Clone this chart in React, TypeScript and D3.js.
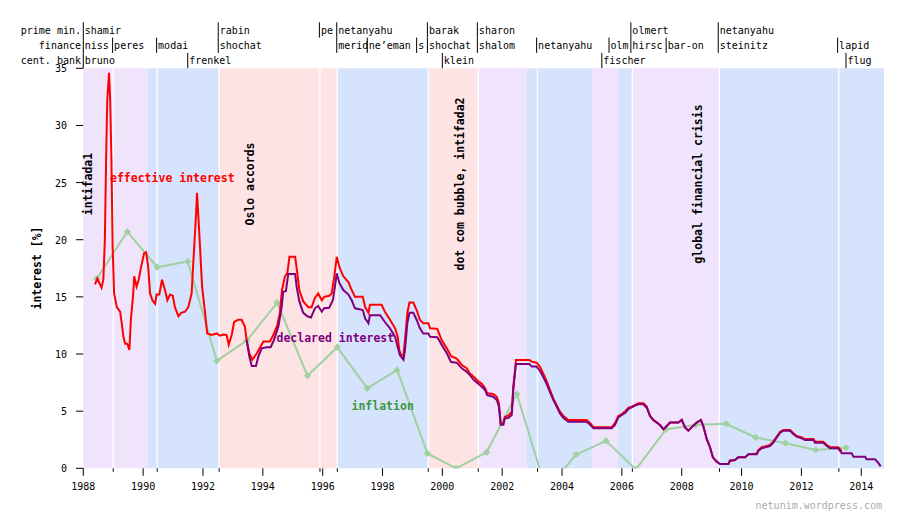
import React from 'react';
import * as d3 from 'd3';

const W = 902;
const H = 529;

// effective interest [year, %]
const effectiveInterest: [number, number][] = [
  [1988.39,16.1],[1988.47,16.6],[1988.61,15.8],[1988.67,16.5],[1988.72,20.0],[1988.76,26.7],[1988.80,32.2],[1988.86,34.6],[1988.90,32.1],[1988.94,27.0],[1988.98,19.4],
  [1989.03,15.3],[1989.12,14.1],[1989.23,13.7],[1989.30,12.4],[1989.34,11.5],[1989.40,10.9],[1989.47,10.9],[1989.54,10.35],[1989.59,13.0],[1989.67,15.3],[1989.70,16.8],[1989.78,15.9],[1989.85,16.5],[1989.93,17.6],
  [1990.03,18.8],[1990.10,18.9],[1990.17,17.6],[1990.23,15.3],[1990.31,14.7],[1990.40,14.4],[1990.45,15.2],[1990.54,15.2],[1990.63,16.5],[1990.73,15.6],[1990.81,14.7],[1990.90,15.2],[1990.99,15.1],
  [1991.06,14.1],[1991.18,13.3],[1991.27,13.6],[1991.40,13.7],[1991.51,14.1],[1991.62,15.3],[1991.70,19.1],[1991.77,22.3],[1991.80,24.1],[1991.84,22.3],[1991.90,19.4],[1991.97,15.9],
  [1992.07,13.6],[1992.14,11.8],[1992.29,11.66],[1992.46,11.8],[1992.57,11.6],[1992.68,11.7],[1992.79,11.66],[1992.86,10.8],[1992.96,11.66],
  [1993.04,12.8],[1993.18,13.0],[1993.29,13.0],[1993.40,12.4],[1993.46,11.2],[1993.55,10.06],[1993.65,9.5],[1993.80,10.06],[1993.91,10.6],
  [1994.02,11.1],[1994.24,11.1],[1994.35,11.66],[1994.48,12.5],[1994.57,13.6],[1994.64,15.6],[1994.74,16.8],[1994.82,17.1],[1994.89,18.5],
  [1995.08,18.5],[1995.15,17.1],[1995.22,15.6],[1995.35,14.6],[1995.52,14.1],[1995.63,14.1],[1995.74,14.9],[1995.85,15.3],[1995.97,14.7],
  [1996.05,15.0],[1996.22,15.1],[1996.30,15.3],[1996.39,16.8],[1996.47,18.5],[1996.56,17.6],[1996.69,16.8],[1996.86,16.3],[1996.97,15.6],
  [1997.08,15.0],[1997.34,15.0],[1997.42,14.1],[1997.53,13.6],[1997.58,14.3],[1997.97,14.3],
  [1998.08,13.7],[1998.25,13.0],[1998.42,12.25],[1998.51,11.5],[1998.56,10.35],[1998.62,9.9],[1998.70,9.9],[1998.75,11.2],[1998.83,13.6],[1998.90,14.5],
  [1999.03,14.5],[1999.14,13.85],[1999.25,13.0],[1999.36,12.7],[1999.53,12.7],[1999.59,12.25],[1999.83,12.2],[1999.98,11.2],
  [2000.15,10.5],[2000.29,9.8],[2000.48,9.6],[2000.65,9.04],[2000.81,8.75],[2000.92,8.3],
  [2001.06,8.0],[2001.20,7.6],[2001.32,7.4],[2001.43,7.0],[2001.50,6.56],[2001.70,6.5],[2001.82,6.26],[2001.89,5.7],[2001.95,3.94],
  [2002.04,3.94],[2002.09,4.5],[2002.20,4.6],[2002.32,4.95],[2002.37,7.14],[2002.43,8.6],[2002.46,9.47],[2002.91,9.47],[2002.99,9.33],
  [2003.15,9.24],[2003.26,8.9],[2003.37,8.3],[2003.49,7.6],[2003.60,6.85],[2003.71,6.1],[2003.82,5.54],[2003.93,4.95],
  [2004.04,4.6],[2004.21,4.23],[2004.82,4.23],[2004.94,3.94],[2005.05,3.6],[2005.66,3.6],[2005.77,3.94],[2005.88,4.58],
  [2006.00,4.75],[2006.11,5.0],[2006.22,5.3],[2006.33,5.4],[2006.44,5.54],[2006.55,5.69],[2006.72,5.69],[2006.83,5.4],[2006.94,4.58],
  [2007.05,4.23],[2007.17,4.0],[2007.28,3.76],[2007.39,3.41],[2007.50,3.7],[2007.61,4.0],[2007.89,4.0],
  [2008.00,4.23],[2008.11,3.58],[2008.22,3.29],[2008.33,3.58],[2008.50,4.0],[2008.64,4.23],[2008.72,3.7],[2008.84,2.53],[2008.95,1.8],
  [2009.04,0.96],[2009.17,0.58],[2009.28,0.38],[2009.56,0.38],[2009.61,0.67],[2009.78,0.73],[2009.89,0.96],
  [2010.12,0.96],[2010.23,1.22],[2010.51,1.3],[2010.56,1.6],[2010.67,1.84],[2010.95,2.04],
  [2011.06,2.33],[2011.17,2.76],[2011.29,3.2],[2011.40,3.35],[2011.62,3.35],[2011.73,3.06],[2011.84,2.83],
  [2012.01,2.71],[2012.12,2.56],[2012.40,2.56],[2012.46,2.33],[2012.73,2.33],[2012.85,2.04],[2012.96,1.84],
  [2013.23,1.84],[2013.35,1.5],
];

// declared interest [year, %]
const declaredInterest: [number, number][] = [
  [1993.46,11.2],[1993.55,9.77],[1993.63,8.95],[1993.77,8.95],[1993.85,9.77],[1993.96,10.5],
  [1994.13,10.6],[1994.26,10.6],[1994.37,11.2],[1994.52,12.4],[1994.63,14.1],[1994.68,15.45],[1994.77,15.5],[1994.85,17.0],
  [1995.08,17.0],[1995.13,15.9],[1995.22,14.6],[1995.35,13.6],[1995.49,13.3],[1995.61,13.2],[1995.74,14.0],[1995.85,14.2],[1995.97,13.7],
  [1996.05,14.0],[1996.22,14.05],[1996.34,14.7],[1996.41,15.9],[1996.47,17.06],[1996.56,16.2],[1996.69,15.6],[1996.86,15.2],[1996.97,14.7],
  [1997.08,14.0],[1997.34,13.85],[1997.42,13.1],[1997.53,12.7],[1997.58,13.4],[1997.92,13.4],
  [1998.08,12.8],[1998.25,12.25],[1998.42,11.5],[1998.51,10.6],[1998.58,9.9],[1998.70,9.5],[1998.75,10.35],[1998.83,12.7],[1998.90,13.6],
  [1999.03,13.6],[1999.14,13.0],[1999.25,12.25],[1999.36,11.8],[1999.53,11.8],[1999.59,11.5],[1999.83,11.46],[1999.98,10.8],
  [2000.15,10.06],[2000.29,9.3],[2000.48,9.24],[2000.65,8.75],[2000.81,8.45],[2000.92,8.16],
  [2001.06,7.7],[2001.20,7.4],[2001.32,7.14],[2001.43,6.85],[2001.50,6.4],[2001.70,6.26],[2001.82,5.98],[2001.89,5.4],[2001.95,3.8],
  [2002.04,3.8],[2002.09,4.37],[2002.20,4.4],[2002.32,4.66],[2002.37,6.85],[2002.43,8.45],[2002.46,9.12],[2002.91,9.12],[2002.99,8.9],
  [2003.15,8.9],[2003.26,8.54],[2003.37,8.0],[2003.49,7.35],[2003.60,6.65],[2003.71,5.98],[2003.82,5.4],[2003.93,4.8],
  [2004.04,4.43],[2004.21,4.08],[2004.82,4.08],[2004.94,3.8],[2005.05,3.5],[2005.66,3.5],[2005.77,3.8],[2005.88,4.46],
  [2006.00,4.66],[2006.11,4.87],[2006.22,5.19],[2006.33,5.34],[2006.44,5.48],[2006.55,5.6],[2006.72,5.6],[2006.83,5.3],[2006.94,4.58],
  [2007.05,4.23],[2007.17,4.0],[2007.28,3.76],[2007.39,3.41],[2007.50,3.7],[2007.61,4.0],[2007.89,4.0],
  [2008.00,4.23],[2008.11,3.58],[2008.22,3.29],[2008.33,3.58],[2008.50,4.0],[2008.64,4.23],[2008.72,3.7],[2008.84,2.53],[2008.95,1.8],
  [2009.04,0.96],[2009.17,0.58],[2009.28,0.38],[2009.56,0.38],[2009.61,0.67],[2009.78,0.73],[2009.89,0.96],
  [2010.12,0.96],[2010.23,1.22],[2010.51,1.22],[2010.56,1.51],[2010.67,1.75],[2010.95,1.95],
  [2011.06,2.24],[2011.17,2.68],[2011.29,3.12],[2011.40,3.29],[2011.62,3.29],[2011.73,3.0],[2011.84,2.77],
  [2012.01,2.62],[2012.12,2.48],[2012.40,2.48],[2012.46,2.24],[2012.73,2.24],[2012.85,1.95],[2012.96,1.75],
  [2013.23,1.75],[2013.35,1.31],[2013.68,1.31],[2013.74,1.0],[2014.13,1.0],[2014.18,0.79],[2014.46,0.79],[2014.57,0.47],[2014.65,0.17],
];

// yearly inflation [year, %]
const inflation: [number, number][] = [
  [1988.45,16.6],[1989.47,20.7],[1990.47,17.6],[1991.49,18.1],[1992.46,9.4],[1993.47,11.2],[1994.48,14.5],[1995.49,8.1],
  [1996.49,10.6],[1997.49,7.0],[1998.49,8.6],[1999.50,1.3],[2000.46,0.0],[2001.48,1.4],[2002.49,6.5],[2003.47,-1.9],
  [2004.47,1.2],[2005.47,2.4],[2006.47,-0.1],[2007.47,3.4],[2008.47,3.8],[2009.48,3.9],[2010.47,2.7],[2011.47,2.2],
  [2012.48,1.6],[2013.49,1.8],
];

const xTicks = [1988, 1990, 1992, 1994, 1996, 1998, 2000, 2002, 2004, 2006, 2008, 2010, 2012, 2014];
const yTicks = [0, 5, 10, 15, 20, 25, 30, 35];

// government periods: [start, end, kind]
const periods: [number, number, string][] = [
  [1988.0, 1990.15, 'unity'],
  [1990.15, 1992.54, 'right'],
  [1992.54, 1996.49, 'left'],
  [1996.49, 1999.53, 'right'],
  [1999.53, 2001.2, 'left'],
  [2001.2, 2002.82, 'unity'],
  [2002.82, 2005.0, 'right'],
  [2005.0, 2005.87, 'unity'],
  [2005.87, 2006.35, 'right'],
  [2006.35, 2009.26, 'unity'],
  [2009.26, 2014.76, 'right'],
];
const boundaryYears = [1989.0, 1990.47, 1992.54, 1995.91, 1996.49, 1999.53, 2001.2, 2003.18, 2006.35, 2009.26, 2013.25];

const primeMinisters: [number, string][] = [
  [1988.0, 'shamir'], [1992.51, 'rabin'], [1995.89, 'pe'], [1996.47, 'netanyahu'], [1999.5, 'barak'],
  [2001.17, 'sharon'], [2006.3, 'olmert'], [2009.22, 'netanyahu'],
];
const financeMinisters: [number, string][] = [
  [1988.0, 'niss'], [1988.98, 'peres'], [1990.45, 'modai'], [1992.51, 'shochat'], [1996.47, 'merid'],
  [1997.49, 'ne\u2019eman'], [1999.14, 's'], [1999.5, 'shochat'], [2001.17, 'shalom'], [2003.15, 'netanyahu'],
  [2005.57, 'olm'], [2006.3, 'hirsc'], [2007.48, 'bar-on'], [2009.22, 'steinitz'], [2013.21, 'lapid'],
];
const centralBank: [number, string][] = [
  [1988.0, 'bruno'], [1991.49, 'frenkel'], [2000.0, 'klein'], [2005.33, 'fischer'], [2013.49, 'flug'],
];
const rowTitles = ['prime min.', 'finance', 'cent. bank'];

const events: [number, string][] = [
  [1988.15, 'intifada1'],
  [1993.58, 'Oslo accords'],
  [2000.6, 'dot com bubble, intifada2'],
  [2008.55, 'global financial crisis'],
];

const FONT = '"DejaVu Sans Mono", monospace';
const fills: Record<string, string> = { unity: '#f0e4fc', right: '#d6e3fc', left: '#fde3e3' };
const GREEN = '#9fd09f';

export default function App() {
  const x = d3.scaleLinear().domain([1988, 2014.76]).range([83.3, 884]);
  const y = d3.scaleLinear().domain([0, 35]).range([468.3, 68.3]);
  const line = d3.line<[number, number]>().x(d => x(d[0])).y(d => y(d[1]));
  const diamond = 'M0,-3.6L3.6,0L0,3.6L-3.6,0Z';
  const rows = [primeMinisters, financeMinisters, centralBank];
  const rowTop = [22.3, 37.6, 52.9];
  const rowH = 15.3;

  return (
    <svg width={W} height={H} style={{ position: 'absolute', left: 0, top: 0, background: '#fff' }}
      fontFamily={FONT}>
      <defs>
        <clipPath id="plot">
          <rect x={x(1988)} y={y(35)} width={x(2014.76) - x(1988)} height={y(0) - y(35)} />
        </clipPath>
      </defs>
      {periods.map(([s, e, k], i) => (
        <rect key={'p' + i} x={x(s)} y={y(35)} width={x(e) - x(s)} height={y(0) - y(35)} fill={fills[k]} />
      ))}
      {boundaryYears.map((b, i) => (
        <line key={'b' + i} x1={x(b)} x2={x(b)} y1={y(35)} y2={y(0)} stroke="#fff" strokeWidth={1.3} />
      ))}
      {boundaryYears.map((b, i) => (
        <line key={'bt' + i} x1={x(b)} x2={x(b)} y1={y(0)} y2={y(0) + 3.5} stroke="#000" strokeWidth={1} />
      ))}
      {/* y axis */}
      {yTicks.map(t => (
        <g key={'y' + t}>
          <line x1={76} x2={x(1988)} y1={y(t)} y2={y(t)} stroke="#000" strokeWidth={1} />
          <text x={67} y={y(t) + 4} textAnchor="end" fontSize={10}>{t}</text>
        </g>
      ))}
      {xTicks.map(t => (
        <g key={'x' + t}>
          <line x1={x(t)} x2={x(t)} y1={y(0)} y2={y(0) + 7.5} stroke="#000" strokeWidth={1} />
          <text x={x(t)} y={490} textAnchor="middle" fontSize={10}>{t}</text>
        </g>
      ))}
      <text transform="translate(40.5,268) rotate(-90)" textAnchor="middle" fontSize={11.5} fontWeight="bold">interest [%]</text>

      {/* series */}
      <g clipPath="url(#plot)">
        <path d={line(inflation) || ''} fill="none" stroke={GREEN} strokeWidth={2} />
        {inflation.map((d, i) => (
          <path key={'m' + i} d={diamond} transform={`translate(${x(d[0])},${y(d[1])})`} fill={GREEN} />
        ))}
        <path d={line(effectiveInterest) || ''} fill="none" stroke="#ff0000" strokeWidth={2} />
        <path d={line(declaredInterest) || ''} fill="none" stroke="#7f007f" strokeWidth={2} />
      </g>

      {/* labels */}
      <text x={110} y={182} fontSize={11.5} fontWeight="bold" fill="#ff0000">effective interest</text>
      <text x={276.5} y={342} fontSize={11.5} fontWeight="bold" fill="#7f007f">declared interest</text>
      <text x={351.5} y={409.5} fontSize={11.5} fontWeight="bold" fill="#3f963f">inflation</text>
      {events.map(([yr, label], i) => (
        <text key={'e' + i} transform={`translate(${x(yr)},184) rotate(-90)`} textAnchor="middle"
          dominantBaseline="central" fontSize={11.5} fontWeight="bold">{label}</text>
      ))}

      {/* top rows */}
      {rows.map((items, r) => (
        <g key={'r' + r}>
          <text x={81} y={rowTop[r] + 11.3} textAnchor="end" fontSize={10}>{rowTitles[r]}</text>
          {items.map(([yr, name], i) => (
            <g key={i}>
              <line x1={x(yr)} x2={x(yr)} y1={rowTop[r]} y2={rowTop[r] + rowH} stroke="#000" strokeWidth={1} />
              <text x={x(yr) + 1.5} y={rowTop[r] + 11.3} fontSize={10}>{name}</text>
            </g>
          ))}
        </g>
      ))}

      <text x={882} y={509} textAnchor="end" fontSize={10} fill="#aaaaaa">netunim.wordpress.com</text>
    </svg>
  );
}
